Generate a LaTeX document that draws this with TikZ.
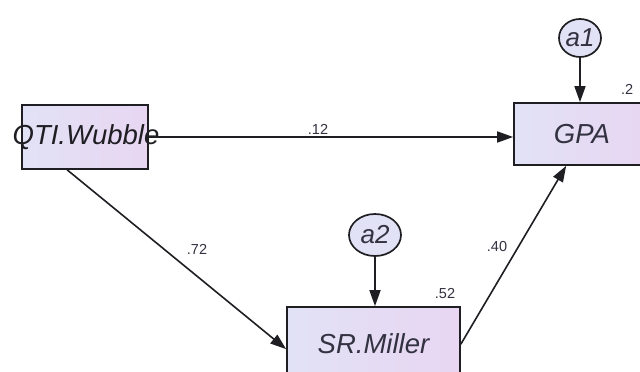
\documentclass[tikz,border=0pt]{standalone}
\usepackage{fontspec}
\setmainfont{Liberation Sans}
\usetikzlibrary{arrows.meta,calc,shapes.geometric}
\definecolor{ink}{RGB}{30,30,35}
\definecolor{txt}{RGB}{50,50,65}
\definecolor{boxl}{RGB}{226,226,246}
\definecolor{boxr}{RGB}{232,214,242}
\tikzset{
  var/.style={draw=ink, line width=1.7pt, left color=boxl, right color=boxr, inner sep=0pt, font=\fontsize{27.5}{27.5}\selectfont\itshape, text=txt},
  err/.style={draw=ink, line width=1.7pt, ellipse, fill=boxl, inner sep=0pt, font=\fontsize{26}{26}\selectfont\itshape, text=txt},
  path/.style={draw=ink, line width=1.6pt, -{Triangle[length=16pt,width=11pt]}},
  coef/.style={font=\fontsize{14.5}{14.5}\selectfont, text=txt, inner sep=0pt}
}
\begin{document}
\begin{tikzpicture}[x=1pt,y=1pt]
\useasboundingbox (0,0) rectangle (640,-372);
\fill[white] (0,0) rectangle (640,-372);
\node[var, minimum width=126pt, minimum height=64pt] (qti) at (85,-137) {};
\node[font=\fontsize{27.5}{27.5}\selectfont\itshape, text=ink, inner sep=0pt] (qtit) at (86,-137) {QTI.Wubble};
\node[var, minimum width=136pt, minimum height=62pt] (gpa) at (582,-134) {GPA};
\node[var, minimum width=173pt, minimum height=74pt] (sr) at (373.5,-344) {SR.Miller};
\node[err, minimum width=42pt, minimum height=38pt] (a1) at (580,-38) {a1};
\node[err, minimum width=52pt, minimum height=42pt] (a2) at (375,-235) {a2};
\draw[path] (a1) -- (a1 |- gpa.north);
\draw[path] (a2) -- (a2 |- sr.north);
\draw[path] (qti.east |- 0,-137) -- (gpa.west |- 0,-137);
\draw[path] ($(qti.south west)+(46,0)$) -- ($(sr.north west)+(0,-43)$);
\draw[path] ($(sr.north east)+(0,-38)$) -- ($(gpa.south west)+(53,0)$);
\node[coef] (c12) at (318,-129) {.12};
\node[coef] (c72) at (197,-249) {.72};
\node[coef] (c40) at (497,-247) {.40};
\node[coef] (c52) at (445,-294) {.52};
\node[coef, anchor=west] (c2) at (621,-89) {.2};
\end{tikzpicture}
\end{document}
